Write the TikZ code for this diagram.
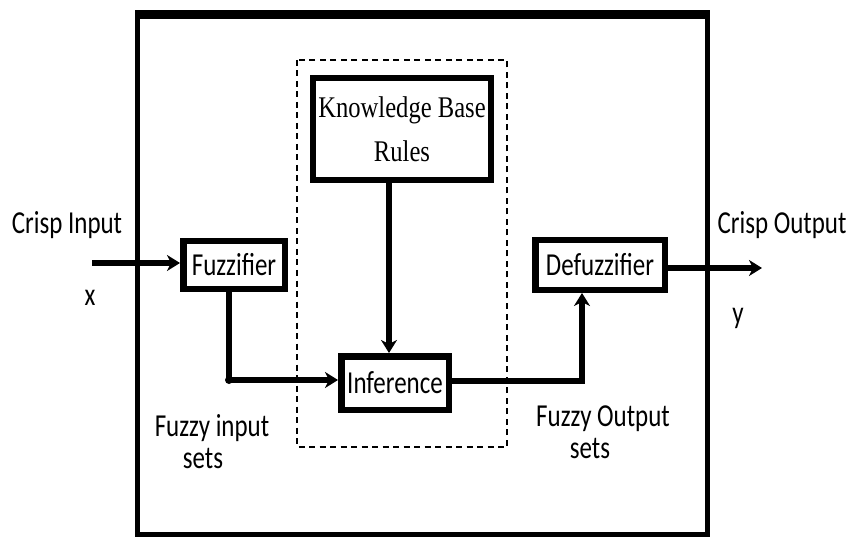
\documentclass[tikz,border=0pt]{standalone}
\usepackage{fontspec}
\setmainfont{Carlito}
\newfontfamily\labfont[FakeStretch=0.78]{Carlito}
\newfontfamily\kbfont[FakeStretch=0.82]{Liberation Serif}
\usetikzlibrary{arrows.meta,calc}

\begin{document}
\begin{tikzpicture}[x=1pt,y=-1pt,
  labtext/.style={font=\labfont\fontsize{32}{32}\selectfont},
  blk/.style={draw, line width=6.5pt, inner sep=0, labtext},
  lbl/.style={labtext, inner sep=0, align=center},
  conn/.style={line width=5.5pt, -{Stealth[length=13pt,width=16pt,inset=4pt]}},
]
\useasboundingbox (0,0) rectangle (849,540);

% system frame
\draw[line width=5pt] (137.5,12.5) rectangle (707.5,534.5);
\draw[line width=9pt] (135,14.5) -- (710,14.5);

% inference engine boundary
\draw[line width=2pt, dash pattern=on 6pt off 4.5pt] (297,60) rectangle (507,447);

% blocks
\node[blk, minimum width=178pt, minimum height=102pt, font=\kbfont\fontsize{30}{30}\selectfont, align=center]
  (kb) at (402,129) {Knowledge Base\\[14pt]Rules};
\node[blk, minimum width=101.5pt, minimum height=47.5pt] (fz) at (234,265) {Fuzzifier};
\node[blk, minimum width=129.5pt, minimum height=49.5pt] (df) at (600,265) {Defuzzifier};
\node[blk, minimum width=107.5pt, minimum height=53.5pt] (inf) at (395,383) {Inference};

% external ends
\coordinate (in) at (92,263);
\coordinate (out) at (762,268);

% connectors
\draw[conn] (in) -- (fz.west |- in);
\draw[conn] (df.east |- out) -- (out);
\coordinate (fzdrop) at ($(fz.south)+(-5,0)$);
\draw[conn] (fzdrop) -- (fzdrop |- 0,380) -- (inf.west |- 0,380);
\fill (fzdrop |- 0,380) circle (4pt);
\coordinate (kbdrop) at ($(kb.south)+(-13,0)$);
\draw[conn] (kbdrop) -- (kbdrop |- inf.north);
\coordinate (dfrise) at ($(df.south)+(-18,0)$);
\draw[conn] (inf.east |- 0,381) -- (dfrise |- 0,381) -- (dfrise);

% labels
\node[lbl] (lin) at (67,225) {Crisp Input};
\node[lbl] (lx) at (90,298) {x};
\node[lbl] (lout) at (782,225) {Crisp Output};
\node[lbl] (ly) at (738,318) {y};
\node[lbl] (lfi) at (212,442) {Fuzzy input\\\hspace*{-18pt}sets};
\node[lbl] (lfo) at (603,432) {Fuzzy Output\\\hspace*{-26pt}sets};
\end{tikzpicture}
\end{document}
